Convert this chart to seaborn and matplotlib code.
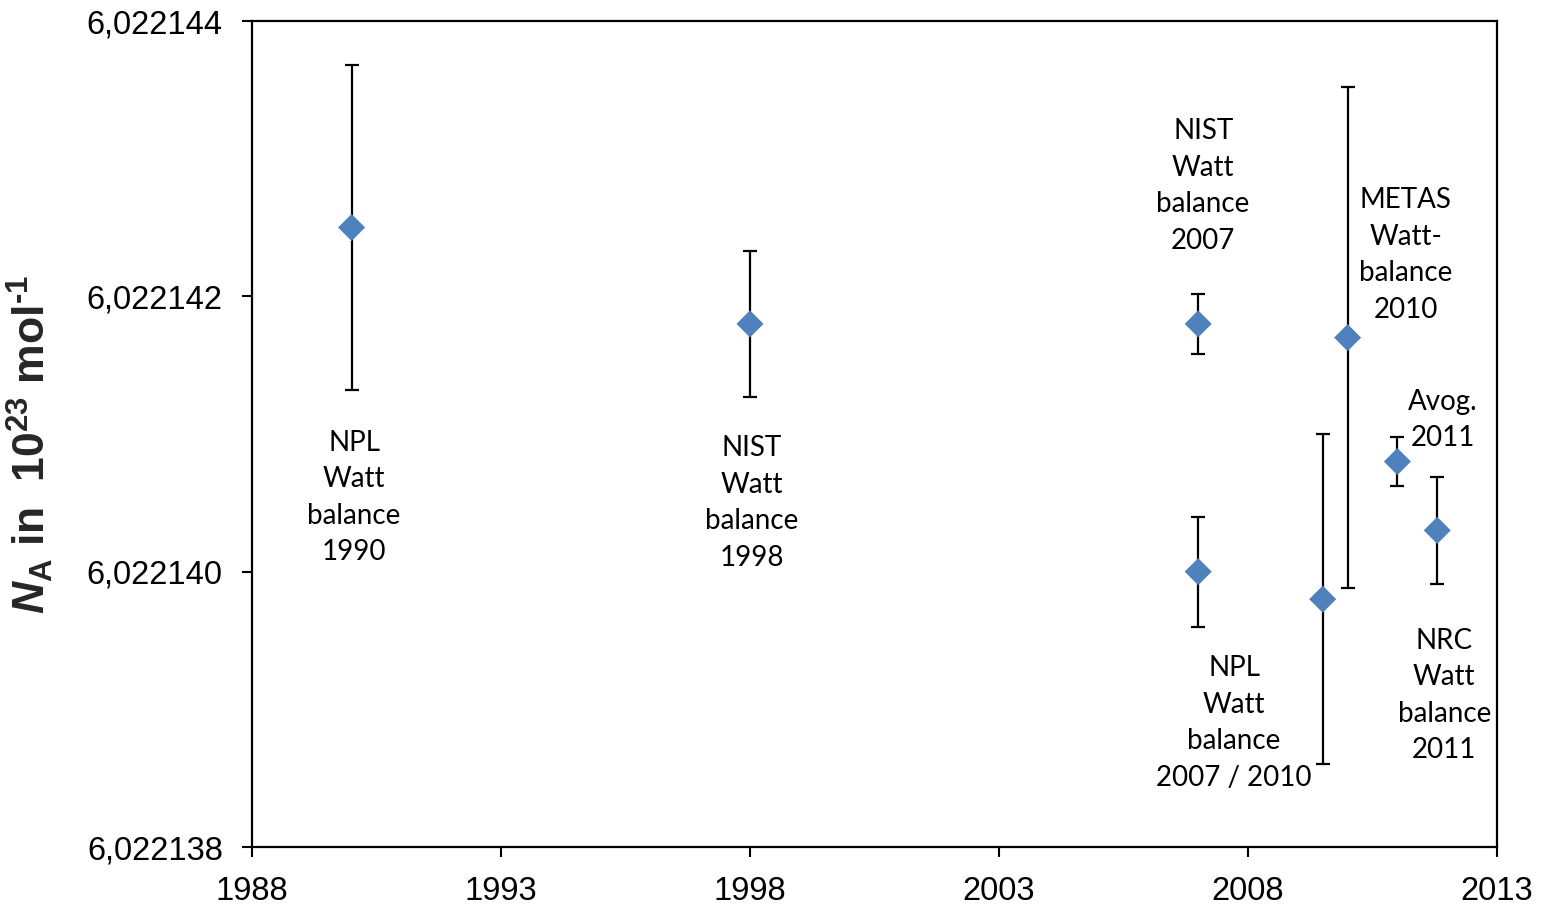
import matplotlib
matplotlib.use("Agg")
import matplotlib.pyplot as plt
import seaborn as sns
import pandas as pd
from matplotlib.ticker import FixedLocator, FixedFormatter

# ---- data ----
years = [1990.0, 1998.0, 2007.0, 2007.0, 2009.5, 2010.0, 2011.0, 2011.8]
values = [6.0221425, 6.0221418, 6.0221418, 6.0221400, 6.0221398, 6.0221417, 6.0221408, 6.0221403]
errors = [0.00000118, 0.00000053, 0.00000022, 0.00000040, 0.00000120, 0.00000182, 0.00000018, 0.00000039]

labels = ["NPL\nWatt\nbalance\n1990", "NIST\nWatt\nbalance\n1998", "NIST\nWatt\nbalance\n2007",
          "METAS\nWatt-\nbalance\n2010", "Avog.\n2011", "NPL\nWatt\nbalance\n2007 / 2010",
          "NRC\nWatt\nbalance\n2011"]
label_x = [1990.05, 1998.04, 2007.1, 2011.17, 2011.92, 2007.72, 2011.94]
label_y = [6.02214054, 6.0221405, 6.0221428, 6.0221423, 6.0221411, 6.0221389, 6.0221391]

x_ticks = [1988, 1993, 1998, 2003, 2008, 2013]
y_ticks = [6.022138, 6.022140, 6.022142, 6.022144]
y_tick_labels = ["6,022138", "6,022140", "6,022142", "6,022144"]

df = pd.DataFrame({"year": years, "value": values, "err": errors})

sns.set_style("white")
plt.rcParams["font.family"] = ["Liberation Sans", "DejaVu Sans"]
plt.rcParams["mathtext.fontset"] = "custom"
plt.rcParams["mathtext.rm"] = "Liberation Sans:bold"
plt.rcParams["mathtext.it"] = "Liberation Sans:bold:italic"
plt.rcParams["mathtext.bf"] = "Liberation Sans:bold"

fig = plt.figure(figsize=(15.48, 9.07), dpi=100)
ax = fig.add_axes([252/1548, 1-847/907, (1497-252)/1548, (847-21)/907])

ax.errorbar(df["year"], df["value"], yerr=df["err"], fmt="none", ecolor="black",
            elinewidth=1.6, capsize=5, capthick=1.6, zorder=2)
sns.scatterplot(data=df, x="year", y="value", marker="D", s=190, color="#4F81BD",
                edgecolor="none", ax=ax, zorder=3, legend=False)

for t, xx, yy in zip(labels, label_x, label_y):
    ax.text(xx, yy, t, ha="center", va="center", fontsize=20, family=["Lato", "DejaVu Sans"],
            linespacing=1.5, color="black")

ax.set_xlim(1988, 2013)
ax.set_ylim(6.022138, 6.022144)
ax.xaxis.set_major_locator(FixedLocator(x_ticks))
ax.set_xticklabels([str(v) for v in x_ticks])
ax.yaxis.set_major_locator(FixedLocator(y_ticks))
ax.yaxis.set_major_formatter(FixedFormatter(y_tick_labels))
ax.tick_params(axis="both", which="major", direction="out", length=7, width=1.5,
               labelsize=23.5, pad=14, color="black", labelcolor="black",
               bottom=True, left=True, top=False, right=False)

for sp in ax.spines.values():
    sp.set_visible(True)
    sp.set_color("black")
    sp.set_linewidth(1.6)

ax.set_xlabel("")
ax.set_ylabel(r"$\mathit{N}_\mathrm{A}$ in  10$^{23}$ mol$^{\text{-1}}$", fontsize=32, fontweight="bold")
ax.yaxis.set_label_coords(-0.158, 0.487)

fig.savefig("out.png", dpi=100)
